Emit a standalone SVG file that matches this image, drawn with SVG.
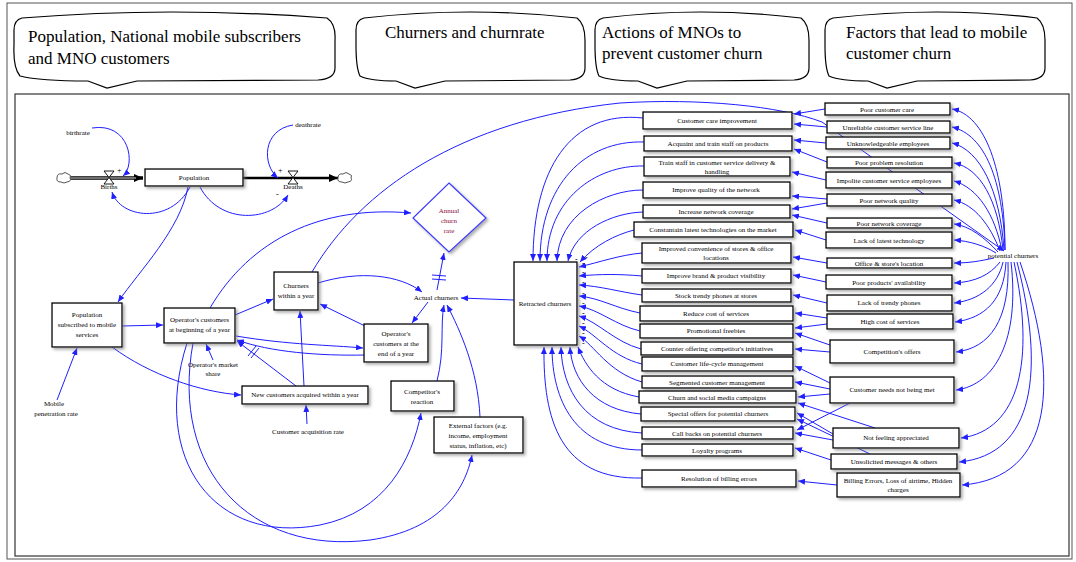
<svg xmlns="http://www.w3.org/2000/svg" width="1076" height="562" viewBox="0 0 1076 562">
<style>
.b{fill:#fff;stroke:#000;stroke-width:1.3;filter:url(#sh)}
.t{font-family:"Liberation Serif",serif;font-size:7px;text-anchor:middle;fill:#000}
.tl{font-family:"Liberation Serif",serif;font-size:17px;fill:#000}
.c{fill:none;stroke:#1f1fff;stroke-width:1;marker-end:url(#ar)}
.n{fill:none;stroke:#1f1fff;stroke-width:1}
.co{fill:#fff;stroke:#000;stroke-width:1.2}
.m{font-family:"Liberation Serif",serif;font-size:8px;fill:#000}
</style>
<defs>
<filter id="sh" x="-20%" y="-30%" width="150%" height="180%"><feDropShadow dx="2" dy="2" stdDeviation="1.5" flood-color="#777" flood-opacity="0.6"/></filter>
<marker id="ar" markerWidth="7" markerHeight="6" refX="7" refY="3" orient="auto" markerUnits="userSpaceOnUse"><path d="M0,0 L7,3 L0,6 z" fill="#1f1fff"/></marker>
<marker id="bk" markerWidth="9" markerHeight="8" refX="9" refY="4" orient="auto" markerUnits="userSpaceOnUse"><path d="M0,0 L9,4 L0,8 z" fill="#000"/></marker>
</defs>
<rect width="1076" height="562" fill="#fff"/>
<rect x="7" y="3" width="1065" height="556" fill="none" stroke="#555" stroke-width="1"/>
<rect x="15" y="94" width="1054" height="462" fill="none" stroke="#333" stroke-width="1.2"/>

<g id="callouts">
<path class="co" d="M22,18 Q170,6 327,18 Q336,24 335,40 L335,68 Q335,79 318,80 L137,81 L107,88 L88,81 Q40,81 20,76 Q13,68 14,45 L14,30 Q14,20 22,18 Z"/>
<text class="tl" x="28" y="42">Population, National mobile subscribers</text>
<text class="tl" x="28" y="64">and MNO customers</text>
<path class="co" d="M364,18 Q470,6 577,18 Q585,24 585,40 L585,68 Q585,79 570,80 L445,81 L415,88 L396,81 Q370,81 360,76 Q356,68 356,45 L356,30 Q356,20 364,18 Z"/>
<text class="tl" x="385" y="38">Churners and churnrate</text>
<path class="co" d="M603,18 Q700,6 801,18 Q809,24 809,40 L809,68 Q809,79 794,80 L687,81 L657,88 L638,81 Q610,81 599,76 Q595,68 595,45 L595,30 Q595,20 603,18 Z"/>
<text class="tl" x="602" y="38">Actions of MNOs to</text>
<text class="tl" x="602" y="59">prevent customer churn</text>
<path class="co" d="M833,18 Q940,6 1037,18 Q1045,24 1045,40 L1045,68 Q1045,79 1030,80 L917,81 L887,88 L868,81 Q840,81 829,76 Q825,68 825,45 L825,30 Q825,20 833,18 Z"/>
<text class="tl" x="846" y="38">Factors that lead to mobile</text>
<text class="tl" x="846" y="59">customer churn</text>
</g>

<g id="connectors">
<!-- population stock-flow -->
<path d="M66,178 L143,178" stroke="#000" stroke-width="3.5" fill="none" marker-end="url(#bk)"/>
<path d="M66,178 L136,178" stroke="#ddd" stroke-width="1.2" fill="none"/>
<path d="M243,178 L338,178" stroke="#000" stroke-width="2.5" fill="none" marker-end="url(#bk)"/>
<path class="c" d="M92,128 C130,122 136,165 123,176"/>
<path class="c" d="M293,125 C262,130 262,165 278,178"/>
<path class="c" d="M190,187 C170,225 120,218 112,192"/>
<path class="c" d="M200,187 C220,225 272,222 288,195"/>
<path class="c" d="M188,187 C180,230 140,270 118,302"/>
<!-- left part -->
<path class="c" d="M57,400 L77,348"/>
<path class="c" d="M122,326 L163,325"/>
<path class="c" d="M112,347 C150,375 200,392 241,395"/>
<path class="c" d="M235,315 L273,299"/>
<path class="c" d="M213,360 L206,344"/>
<path class="c" d="M296,386 L237,341"/>
<path class="n" d="M248,356 L256,346 M251,358 L259,348"/>
<path class="c" d="M304,386 L300,311"/>
<path class="c" d="M307,424 L306,405"/>
<path class="c" d="M365,355 C320,356 270,352 237,340"/>
<path class="c" d="M236,336 C290,345 330,345 363,348"/>
<path class="c" d="M365,326 L320,304"/>
<path class="c" d="M318,283 C360,270 400,275 422,292"/>
<path class="c" d="M428,302 L412,323"/>
<path class="c" d="M437,290 L444,253"/>
<path class="n" d="M432,275 L446,276 M432,279 L446,280"/>
<path class="c" d="M514,300 L461,298"/>
<path class="c" d="M437,381 C445,350 440,325 444,305"/>
<path class="c" d="M480,417 C478,370 460,330 447,305"/>
<path class="c" d="M187,343 C150,460 215,545 320,525 C385,512 412,460 421,413"/>
<path class="c" d="M193,343 C170,470 250,555 370,540 C440,530 465,490 472,455"/>
<path class="c" d="M210,308 C250,240 320,205 411,213"/>
<path class="c" d="M312,272 C360,190 460,120 620,103 C700,98 780,106 822,122 L1004,251"/>
<!-- actions to retracted churners -->
<path class="c" d="M643,118 C570,110 533,170 533,261"/>
<path class="c" d="M644,142 C585,140 540,185 540,261"/>
<path class="c" d="M644,166 C595,165 547,200 547,261"/>
<path class="c" d="M643,190 C605,190 558,215 557,261"/>
<path class="c" d="M643,212 C612,213 575,230 568,261"/>
<path class="c" d="M634,230 C615,235 595,245 580,262"/>
<path class="c" d="M642,253 C620,255 600,262 579,267"/>
<path class="c" d="M642,276 C620,274 600,274 579,276"/>
<path class="c" d="M642,295 C620,292 600,286 579,285"/>
<path class="c" d="M640,313 C615,308 600,298 579,296"/>
<path class="c" d="M640,331 C615,325 600,310 579,306"/>
<path class="c" d="M641,349 C615,342 598,322 579,316"/>
<path class="c" d="M642,364 C612,357 596,334 579,326"/>
<path class="c" d="M642,382 C608,372 594,345 579,336"/>
<path class="c" d="M639,397 C600,390 585,365 578,347"/>
<path class="c" d="M641,414 C595,410 572,380 570,347"/>
<path class="c" d="M642,433 C585,430 562,390 561,347"/>
<path class="c" d="M642,450 C575,450 552,400 552,347"/>
<path class="c" d="M642,478 C560,480 543,420 544,347"/>
<!-- factors to actions -->
<path class="c" d="M825,109 L794,114"/>
<path class="c" d="M827,127 L794,124"/>
<path class="c" d="M826,143 L794,140"/>
<path class="c" d="M827,162 L794,149"/>
<path class="c" d="M826,180 L792,172"/>
<path class="c" d="M827,199 L792,196"/>
<path class="c" d="M827,203 L792,209"/>
<path class="c" d="M827,223 L792,215"/>
<path class="c" d="M826,240 L795,230"/>
<path class="c" d="M827,263 L793,257"/>
<path class="c" d="M826,282 L793,275"/>
<path class="c" d="M827,303 L793,295"/>
<path class="c" d="M827,318 L795,313"/>
<path class="c" d="M827,324 L795,328"/>
<path class="c" d="M830,345 L795,333"/>
<path class="c" d="M830,352 L795,349"/>
<path class="c" d="M830,383 L795,366"/>
<path class="c" d="M830,389 L795,382"/>
<path class="c" d="M830,394 L798,397"/>
<path class="c" d="M850,403 L797,430"/>
<path class="c" d="M875,428 L798,403"/>
<path class="c" d="M833,434 L797,413"/>
<path class="c" d="M833,440 L795,433"/>
<path class="c" d="M870,454 L797,419"/>
<path class="c" d="M831,460 L795,448"/>
<path class="c" d="M837,485 L798,481"/>
<!-- potential churners to factors -->
<path class="c" d="M1005,250 C1005,170 985,115 952,109"/>
<path class="c" d="M1005,250 C1003,180 985,135 952,127"/>
<path class="c" d="M1004,250 C1000,190 980,150 952,143"/>
<path class="c" d="M1003,250 C998,200 980,168 954,163"/>
<path class="c" d="M1002,251 C995,215 978,188 954,181"/>
<path class="c" d="M1000,251 C990,225 975,205 954,200"/>
<path class="c" d="M998,252 C985,238 970,226 954,224"/>
<path class="c" d="M996,253 C985,246 970,241 954,240"/>
<path class="c" d="M994,258 C980,261 970,263 954,263"/>
<path class="c" d="M1000,262 C990,275 975,282 954,283"/>
<path class="c" d="M1003,262 C998,285 980,300 954,303"/>
<path class="c" d="M1006,262 C1004,300 985,318 955,322"/>
<path class="c" d="M1008,262 C1010,320 990,348 956,352"/>
<path class="c" d="M1011,262 C1020,340 995,385 956,390"/>
<path class="c" d="M1014,262 C1035,360 1020,430 961,438"/>
<path class="c" d="M1017,262 C1045,370 1035,455 959,462"/>
<path class="c" d="M1020,262 C1060,380 1055,478 962,485"/>
</g>
<g id="minus-signs">
<text class="m" x="582" y="266">-</text><text class="m" x="582" y="275">-</text><text class="m" x="582" y="285">-</text><text class="m" x="582" y="296">-</text><text class="m" x="582" y="306">-</text><text class="m" x="582" y="316">-</text><text class="m" x="582" y="326">-</text><text class="m" x="582" y="336">-</text><text class="m" x="582" y="346">-</text>
<text class="m" x="575" y="262">-</text><text class="m" x="585" y="260">-</text>
<text class="m" x="117" y="173">+</text><text class="m" x="278" y="173">+</text><text class="m" x="276" y="197">-</text>
</g>

<g id="population-flow">
<path d="M57,178 q0,-5 5,-4 q3,-3 6,0 q4,1 2,4 q2,3 -3,4 q-3,2 -6,0 q-5,0 -4,-4 z" fill="#fff" stroke="#555" stroke-width="1"/>
<path d="M338,178 q0,-5 5,-4 q3,-3 6,0 q4,1 2,4 q2,3 -3,4 q-3,2 -6,0 q-5,0 -4,-4 z" fill="#fff" stroke="#555" stroke-width="1"/>
<path d="M104,171 L114,171 L104,184 L114,184 Z" fill="#fff" stroke="#000" stroke-width="0.9"/>
<path d="M288,171 L298,171 L288,184 L298,184 Z" fill="#fff" stroke="#000" stroke-width="0.9"/>
<text class="t" x="109" y="189">Births</text>
<text class="t" x="293" y="189">Deaths</text>
<text class="t" x="78" y="135">birthrate</text>
<text class="t" x="308" y="127">deathrate</text>
</g>
<g id="population"><rect class="b" x="145" y="169" width="98" height="17"/><text class="t" x="194" y="180">Population</text></g>
<g id="pop-subscribed"><rect class="b" x="52" y="303" width="70" height="44"/><text class="t" x="87" y="317">Population</text><text class="t" x="87" y="327">subscribed to mobile</text><text class="t" x="87" y="337">services</text></g>
<g id="mobile-pen"><text class="t" x="54" y="406">Mobile</text><text class="t" x="56" y="416">penetration rate</text></g>
<g id="op-begin"><rect class="b" x="164" y="308" width="71" height="35"/><text class="t" x="199.5" y="322">Operator's customers</text><text class="t" x="199.5" y="332">at beginning of a year</text></g>
<g id="market-share"><text class="t" x="213" y="367">Operator's market</text><text class="t" x="213" y="376">share</text></g>
<g id="churners"><rect class="b" x="274" y="272" width="44" height="38"/><text class="t" x="296" y="288">Churners</text><text class="t" x="296" y="298">within a year</text></g>
<g id="op-end"><rect class="b" x="364" y="324" width="64" height="38"/><text class="t" x="396" y="336">Operator's</text><text class="t" x="396" y="346">customers at the</text><text class="t" x="396" y="356">end of a year</text></g>
<g id="new-cust"><rect class="b" x="242" y="386" width="126" height="18"/><text class="t" x="305" y="397">New customers acquired within a year</text></g>
<g id="acq-rate"><text class="t" x="308" y="434">Customer acquisition rate</text></g>
<g id="competitor"><rect class="b" x="391" y="381" width="63" height="30"/><text class="t" x="422" y="394">Competitor's</text><text class="t" x="422" y="404">reaction</text></g>
<g id="external"><rect class="b" x="434" y="417" width="89" height="36"/><text class="t" x="478" y="428">External factors (e.g.</text><text class="t" x="478" y="438">income, employment</text><text class="t" x="478" y="448">status, inflation, etc)</text></g>
<g id="actual"><text class="t" x="436" y="300">Actual churners</text></g>
<g id="annual"><path d="M449,183 L486,218 L449,252 L413,218 Z" fill="#fff" stroke="#3a3aff" stroke-width="1.2" filter="url(#sh)"/><text class="t" x="449" y="213" fill="#8b0a3a" style="fill:#8b0a3a">Annual</text><text class="t" x="449" y="223" style="fill:#8b0a3a">churn</text><text class="t" x="449" y="233" style="fill:#8b0a3a">rate</text></g>
<g id="retracted"><rect class="b" x="514" y="262" width="63" height="83"/><text class="t" x="545" y="306">Retracted churners</text></g>

<g id="actions">
<g id="a1"><rect class="b" x="643" y="112" width="149" height="17"/><text class="t" x="717" y="123">Customer care improvement</text></g>
<g id="a2"><rect class="b" x="644" y="136" width="148" height="15"/><text class="t" x="718" y="146">Acquaint and train staff on products</text></g>
<g id="a3"><rect class="b" x="644" y="157" width="146" height="19"/><text class="t" x="717" y="165">Train staff in customer service delivery &amp;</text><text class="t" x="717" y="174">handling</text></g>
<g id="a4"><rect class="b" x="643" y="182" width="147" height="16"/><text class="t" x="716" y="192">Improve quality of the network</text></g>
<g id="a5"><rect class="b" x="643" y="205" width="147" height="13"/><text class="t" x="716" y="214">Increase network coverage</text></g>
<g id="a6"><rect class="b" x="634" y="222" width="159" height="15"/><text class="t" x="713" y="232">Constantain latest technologies on the market</text></g>
<g id="a7"><rect class="b" x="642" y="243" width="149" height="20"/><text class="t" x="716" y="251">Improved convenience of stores &amp; office</text><text class="t" x="716" y="260">locations</text></g>
<g id="a8"><rect class="b" x="642" y="269" width="149" height="14"/><text class="t" x="716" y="278">Improve brand &amp; product visibility</text></g>
<g id="a9"><rect class="b" x="642" y="289" width="149" height="13"/><text class="t" x="716" y="298">Stock trendy phones at stores</text></g>
<g id="a10"><rect class="b" x="640" y="306" width="153" height="15"/><text class="t" x="716" y="316">Reduce cost of services</text></g>
<g id="a11"><rect class="b" x="640" y="324" width="153" height="14"/><text class="t" x="716" y="333">Promotional freebies</text></g>
<g id="a12"><rect class="b" x="641" y="342" width="152" height="13"/><text class="t" x="717" y="351">Counter offering competitor's initiatives</text></g>
<g id="a13"><rect class="b" x="642" y="357" width="151" height="14"/><text class="t" x="717" y="366">Customer life-cycle management</text></g>
<g id="a14"><rect class="b" x="642" y="376" width="151" height="12"/><text class="t" x="717" y="385">Segmented customer management</text></g>
<g id="a15"><rect class="b" x="639" y="391" width="157" height="12"/><text class="t" x="717" y="400">Churn and social media campaigns</text></g>
<g id="a16"><rect class="b" x="641" y="407" width="154" height="14"/><text class="t" x="718" y="416">Special offers for potential churners</text></g>
<g id="a17"><rect class="b" x="642" y="427" width="151" height="12"/><text class="t" x="717" y="436">Call backs on potential churners</text></g>
<g id="a18"><rect class="b" x="642" y="444" width="151" height="12"/><text class="t" x="717" y="453">Loyalty programs</text></g>
<g id="a19"><rect class="b" x="642" y="470" width="154" height="17"/><text class="t" x="719" y="481">Resolution of billing errors</text></g>
</g>

<g id="factors">
<g id="f1"><rect class="b" x="825" y="103" width="125" height="12"/><text class="t" x="887" y="112">Poor customer care</text></g>
<g id="f2"><rect class="b" x="827" y="121" width="123" height="12"/><text class="t" x="888" y="130">Unreliable customer service line</text></g>
<g id="f3"><rect class="b" x="826" y="137" width="124" height="12"/><text class="t" x="888" y="146">Unknowledgeable employees</text></g>
<g id="f4"><rect class="b" x="827" y="157" width="125" height="11"/><text class="t" x="889" y="165">Poor problem resolution</text></g>
<g id="f5"><rect class="b" x="826" y="172" width="126" height="16"/><text class="t" x="889" y="183">Impolite customer service employees</text></g>
<g id="f6"><rect class="b" x="827" y="194" width="125" height="12"/><text class="t" x="889" y="203">Poor network quality</text></g>
<g id="f7"><rect class="b" x="827" y="218" width="125" height="10"/><text class="t" x="889" y="226">Poor network coverage</text></g>
<g id="f8"><rect class="b" x="826" y="232" width="126" height="16"/><text class="t" x="889" y="243">Lack of latest technology</text></g>
<g id="f9"><rect class="b" x="827" y="258" width="125" height="10"/><text class="t" x="889" y="266">Office &amp; store's location</text></g>
<g id="f10"><rect class="b" x="826" y="275" width="126" height="14"/><text class="t" x="889" y="285">Poor products' availability</text></g>
<g id="f11"><rect class="b" x="827" y="295" width="125" height="16"/><text class="t" x="889" y="305">Lack of trendy phones</text></g>
<g id="f12"><rect class="b" x="827" y="314" width="126" height="15"/><text class="t" x="890" y="324">High cost of services</text></g>
<g id="f13"><rect class="b" x="830" y="340" width="124" height="23"/><text class="t" x="892" y="354">Competition's offers</text></g>
<g id="f14"><rect class="b" x="830" y="377" width="124" height="26"/><text class="t" x="892" y="392">Customer needs not being met</text></g>
<g id="f15"><rect class="b" x="833" y="428" width="126" height="20"/><text class="t" x="896" y="440">Not feeling appreciated</text></g>
<g id="f16"><rect class="b" x="831" y="454" width="126" height="15"/><text class="t" x="894" y="464">Unsolicited messages &amp; others</text></g>
<g id="f17"><rect class="b" x="837" y="473" width="123" height="24"/><text class="t" x="898" y="483">Billing Errors, Loss of airtime, Hidden</text><text class="t" x="898" y="492">charges</text></g>
</g>
<g id="potential"><text class="t" x="1013" y="258">potential churners</text></g>
</svg>
